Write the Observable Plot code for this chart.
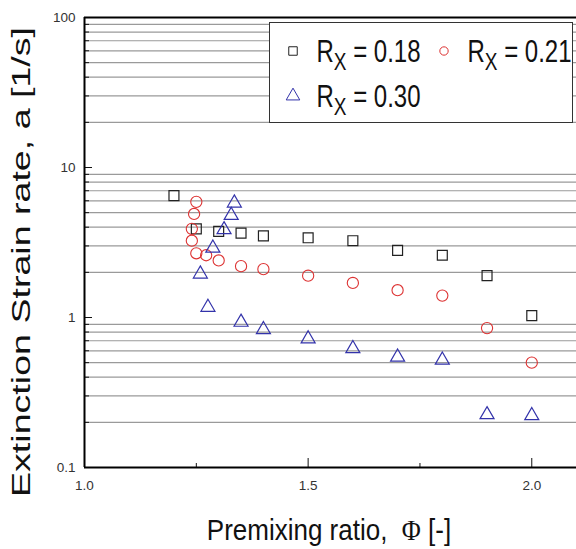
<!DOCTYPE html>
<html>
<head>
<meta charset="utf-8">
<script src="https://cdn.jsdelivr.net/npm/d3@7"></script>
<script src="https://cdn.jsdelivr.net/npm/@observablehq/plot@0.6"></script>
<style>
  html, body { margin: 0; padding: 0; background: #fff; }
  #chart svg { display: block; }
</style>
</head>
<body>
<div id="chart"></div>
<script>
// ---- data ----
const phi18 = [1.2, 1.25, 1.3, 1.35, 1.4, 1.5, 1.6, 1.7, 1.8, 1.9, 2.0];
const a18   = [6.5, 3.9, 3.75, 3.65, 3.5, 3.4, 3.25, 2.8, 2.6, 1.9, 1.03];

const phi21 = [1.25, 1.245, 1.24, 1.24, 1.25, 1.272, 1.3, 1.35, 1.4, 1.5, 1.6, 1.7, 1.8, 1.9, 2.0];
const a21   = [5.9, 4.9, 3.9, 3.25, 2.68, 2.6, 2.4, 2.2, 2.1, 1.9, 1.7, 1.52, 1.4, 0.85, 0.5];

const phi30 = [1.335, 1.328, 1.312, 1.287, 1.259, 1.276, 1.35, 1.4, 1.5, 1.6, 1.7, 1.8, 1.9, 2.0];
const a30   = [5.8, 4.8, 3.85, 2.9, 1.95, 1.17, 0.93, 0.83, 0.72, 0.62, 0.545, 0.52, 0.225, 0.222];

const seriesLabels = ["0.18", "0.21", "0.30"];

// axis tick values
const yMajor = [0.1, 1, 10, 100];
const yMinor = [0.2, 0.3, 0.4, 0.5, 0.6, 0.7, 0.8, 0.9, 2, 3, 4, 5, 6, 7, 8, 9, 20, 30, 40, 50, 60, 70, 80, 90];
const xMajor = [1.0, 1.5, 2.0];
const xMinor = [1.25, 1.75];
const xDomain = [1.0, 2.1];
const yDomain = [0.1, 100];

const toRows = (xs, ys) => xs.map((x, i) => ({phi: x, a: ys[i]}));
const s18 = toRows(phi18, a18);
const s21 = toRows(phi21, a21);
const s30 = toRows(phi30, a30);

const black = "#222", red = "#dd3333", blue = "#3333aa";

const chart = Plot.plot({
  width: 576,
  height: 549,
  marginLeft: 84,
  marginRight: 0,
  marginTop: 17,
  marginBottom: 82,
  x: {domain: xDomain},
  y: {type: "log", domain: yDomain},
  style: {fontFamily: "'Liberation Sans', Arial, sans-serif", fontSize: "13px", color: "#222", background: "white"},
  marks: [
    Plot.ruleY(yMinor, {stroke: "#9a9a9a", strokeWidth: 1.2}),
    // y axis ticks (inward)
    Plot.axisY(yMinor, {tickSize: -5, tickFormat: () => "", label: null, stroke: "#111"}),
    Plot.axisY(yMajor, {tickSize: -8, tickFormat: () => "", label: null, stroke: "#111"}),
    Plot.axisY(yMajor, {tickSize: 0, tickPadding: 9, tickFormat: d => String(d), label: null, fontSize: 13.5, fill: "#333"}),
    // x axis ticks (inward)
    Plot.axisX(xMinor, {tickSize: -4, tickFormat: () => "", label: null, stroke: "#111"}),
    Plot.axisX(xMajor, {tickSize: -9, tickFormat: () => "", label: null, stroke: "#111"}),
    Plot.axisX(xMajor, {tickSize: 0, tickPadding: 13, tickFormat: d3.format(".1f"), label: null, fontSize: 13.5, fill: "#333"}),
    // frame
    Plot.ruleX([xDomain[0]], {stroke: "#000", strokeWidth: 2}),
    Plot.ruleY(yDomain, {stroke: "#000", strokeWidth: 2}),
    // data
    Plot.dot(s18, {x: "phi", y: "a", symbol: "square", r: 5.6, stroke: black, fill: "none", strokeWidth: 1.2}),
    Plot.dot(s21, {x: "phi", y: "a", symbol: "circle", r: 5.6, stroke: red, fill: "none", strokeWidth: 1.1}),
    Plot.dot(s30, {x: "phi", y: "a", symbol: "triangle", r: 5.2, stroke: blue, fill: "none", strokeWidth: 1.2})
  ]
});

document.getElementById("chart").appendChild(chart);

// ---- legend and titles ----
const svg = d3.select(chart);
const font = "'Liberation Sans', Arial, sans-serif";

const lg = svg.append("g");
lg.append("rect")
  .attr("x", 269.5).attr("y", 22.5).attr("width", 303).attr("height", 100)
  .attr("fill", "#fff").attr("stroke", "#333").attr("stroke-width", 1);

const legendItems = [
  {label: seriesLabels[0], type: d3.symbolSquare, size: 72, color: black, sx: 293, tx: 316.5, y: 62},
  {label: seriesLabels[1], type: d3.symbolCircle, size: 55, color: red, sx: 444, tx: 467.5, y: 62},
  {label: seriesLabels[2], type: d3.symbolTriangle, size: 80, color: blue, sx: 293, tx: 316.5, y: 107}
];
legendItems.forEach(it => {
  lg.append("path")
    .attr("d", d3.symbol().type(it.type).size(it.size)())
    .attr("transform", `translate(${it.sx},${it.y - 11})`)
    .attr("fill", "none").attr("stroke", it.color).attr("stroke-width", 1);
  const t = lg.append("g").attr("transform", `translate(${it.tx},${it.y}) scale(1,1.28)`)
    .append("text")
    .attr("text-anchor", "start")
    .attr("font-family", font).attr("font-size", 24).attr("fill", "#111")
    .style("white-space", "pre");
  t.append("tspan").text("R");
  t.append("tspan").attr("font-size", 19).attr("dy", 6).text("X");
  t.append("tspan").attr("dy", -6).text(" = " + it.label);
});

// y title
svg.append("text")
  .attr("transform", "translate(30,262) rotate(-90)")
  .attr("text-anchor", "middle")
  .attr("font-family", font).attr("font-size", 26).attr("fill", "#111")
  .attr("textLength", 470).attr("lengthAdjust", "spacingAndGlyphs")
  .text("Extinction Strain rate, a [1/s]");

// x title
const xt = svg.append("g").attr("transform", "translate(329,540) scale(1,1.1)")
  .append("text")
  .attr("text-anchor", "middle")
  .attr("font-family", font).attr("font-size", 26).attr("fill", "#111")
  .style("white-space", "pre");
xt.append("tspan").text("Premixing ratio,  ");
xt.append("tspan").attr("font-family", "'Liberation Serif', 'DejaVu Serif', serif").text("Φ");
xt.append("tspan").text(" [-]");
</script>
</body>
</html>
